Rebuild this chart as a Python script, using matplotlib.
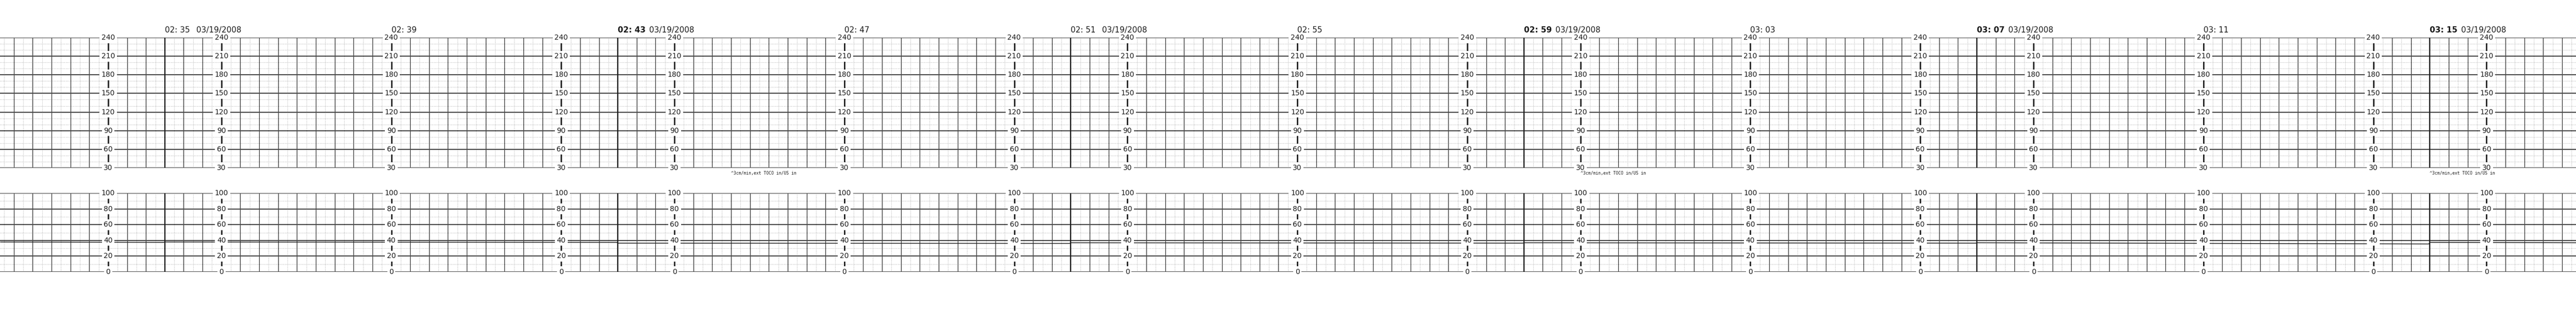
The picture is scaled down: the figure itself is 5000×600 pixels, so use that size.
import numpy as np
import matplotlib
matplotlib.use("Agg")
import matplotlib.pyplot as plt
from matplotlib.transforms import blended_transform_factory

# ---------------- data ----------------
page_times = ["02: 35", "02: 43", "02: 51", "02: 59", "03: 07", "03: 15"]
page_dates = ["03/19/2008", "03/19/2008", "03/19/2008", "03/19/2008", "03/19/2008", "03/19/2008"]
page_bold = [False, True, False, True, True, True]
mid_times = ["02: 39", "02: 47", "02: 55", "03: 03", "03: 11"]
fhr_ticks = [240, 210, 180, 150, 120, 90, 60, 30]
toco_ticks = [100, 80, 60, 40, 20, 0]
note_text = "^3cm/min,ext TOCO in/US in"
note_pages = [1, 3, 5]
note_minute_in_page = [2, 1, 0]
# TOCO trace (minutes after 02:35, value)
toco_times = [-2.9, -0.02, 0.0, 7.98, 8.0, 15.98, 16.0, 23.98, 24.0, 31.98, 32.0, 39.98, 40.0, 42.6]
toco_vals = [38.0, 37.5, 38.0, 37.5, 36.5, 36.2, 37.0, 36.5, 37.0, 36.5, 37.0, 35.5, 37.5, 37.0]

# ---------------- layout ----------------
W, H, DPI = 5000, 600, 100
page_len = 8.0              # minutes per page
cells_per_min = 3
x0, x1 = -2.91, 42.58       # visible minutes
axis_cols_in_page = [1, 4, 7]

fig = plt.figure(figsize=(W / DPI, H / DPI), dpi=DPI)
fig.patch.set_facecolor("white")

ax_top = fig.add_axes([0, 1 - 326 / 600, 1, (326 - 73) / 600])
ax_bot = fig.add_axes([0, 1 - 528 / 600, 1, (528 - 375) / 600])

page_starts = np.arange(-8, 48, page_len)
vmaj = np.arange(-8, 48 + 1e-9, 1 / cells_per_min)
vmin = np.arange(-8, 48 + 1e-9, 1 / (2 * cells_per_min))
vmin = vmin[np.abs(vmin * 2 * cells_per_min) % 2 > 0.5]
cols = np.array([p + c for p in page_starts for c in axis_cols_in_page])

dark = "#1a1a1a"
vgrid = "#2e2e2e"
hgrid = "#4a4a4a"
dot_col = "#808080"


def draw_panel(ax, ymin, ymax, major_step, minor_step, ticks):
    ax.set_xlim(x0, x1)
    ax.set_ylim(ymin, ymax)
    ax.axis("off")
    # minor dotted grid
    ax.vlines(vmin, ymin, ymax, colors=dot_col, linewidth=0.6,
              linestyles=(0, (1, 2.4)), zorder=1)
    hmin = np.arange(ymin, ymax + 1e-9, minor_step)
    hmin = [h for h in hmin if abs(h % major_step) > 1e-6]
    ax.hlines(hmin, x0, x1, colors=dot_col, linewidth=0.6,
              linestyles=(0, (1, 2.4)), zorder=1)
    # major grid
    ax.vlines(vmaj, ymin, ymax, colors=vgrid, linewidth=0.9, zorder=2)
    hmaj = np.arange(ymin, ymax + 1e-9, major_step)
    ax.hlines(hmaj, x0, x1, colors=hgrid, linewidth=1.5, zorder=2)
    # page boundaries
    ax.vlines(page_starts, ymin, ymax, colors=dark, linewidth=1.6, zorder=3)
    # axis columns with stems and labels
    ax.vlines(cols, ymin, ymax, colors=dark, linewidth=1.9, zorder=3)
    for c in cols:
        if c < x0 - 0.5 or c > x1 + 0.5:
            continue
        for t in ticks:
            ax.text(c, t, str(t), ha="center", va="center", fontsize=10,
                    color=dark, zorder=5, clip_on=False,
                    bbox=dict(facecolor="white", edgecolor="none", pad=2.6))


draw_panel(ax_top, 30, 240, 30, 10, fhr_ticks)
draw_panel(ax_bot, 0, 100, 20, 10, toco_ticks)

# TOCO trace
ax_bot.plot(toco_times, toco_vals, color="#222222", linewidth=1.1, zorder=4)

# time stamps
tr = blended_transform_factory(ax_top.transData, fig.transFigure)
y_txt = 1 - 63 / 600
for i, (tm, dt, bold) in enumerate(zip(page_times, page_dates, page_bold)):
    ps = i * page_len
    fig.text(ps, y_txt, tm, transform=tr, ha="left", va="baseline",
             fontsize=11, fontweight="bold" if bold else "normal", color=dark)
    fig.text(ps + 0.555, y_txt, dt, transform=tr, ha="left", va="baseline",
             fontsize=11, color=dark)
for i, tm in enumerate(mid_times):
    ps = i * page_len + 4
    fig.text(ps, y_txt, tm, transform=tr, ha="left", va="baseline",
             fontsize=11, color=dark)

# small notes under the FHR grid
for p, m in zip(note_pages, note_minute_in_page):
    fig.text(p * page_len + m, 1 - 339 / 600, note_text, transform=tr,
             ha="left", va="baseline", fontsize=5.8, family="DejaVu Sans Mono",
             color=dark)

fig.savefig("out.png", dpi=DPI, facecolor="white")
